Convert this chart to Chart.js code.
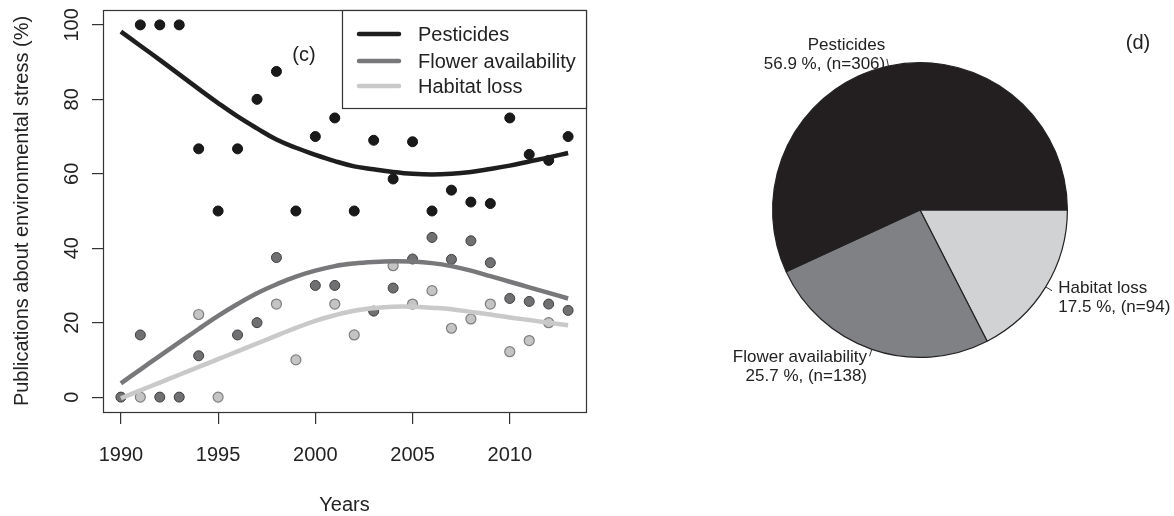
<!DOCTYPE html>
<html>
<head>
<meta charset="utf-8">
<script src="https://cdn.jsdelivr.net/npm/chart.js@4.4.1/dist/chart.umd.min.js"></script>
<style>
  html, body { margin: 0; padding: 0; background: #fff; }
  #wrap { position: relative; width: 1174px; height: 516px; overflow: hidden; }
  #left { position: absolute; left: 0; top: 0; }
  #right { position: absolute; left: 640px; top: 0; }
</style>
</head>
<body>
<div id="wrap">
  <canvas id="left" width="620" height="516"></canvas>
  <canvas id="right" width="534" height="516"></canvas>
</div>
<script>
// ---------- data ----------
const years = [1990,1991,1992,1993,1994,1995,1996,1997,1998,1999,2000,2001,2002,2003,2004,2005,2006,2007,2008,2009,2010,2011,2012,2013];
const pesticidesPts = [null,100,100,100,66.7,50,66.7,80,87.5,50,70,75,50,69,58.6,68.6,50,55.6,52.4,52,75,65.2,63.6,70];
const flowerPts     = [0,16.7,0,0,11.1,null,16.7,20,37.5,null,30,30,null,23.1,29.3,37.1,42.9,37,42,36.1,26.5,25.7,25,23.3];
const habitatPts    = [null,0,null,null,22.2,0,null,null,25,10,null,25,16.7,null,35.3,25,28.6,18.5,21,25,12.2,15.2,20,null];
const pesticidesFit = [98.2,94.4,90.6,86.7,82.8,79,75.4,72.2,69.2,67,65.1,63.4,62,61.2,60.5,60,59.8,60,60.5,61.3,62.2,63.3,64.4,65.6];
const flowerFit     = [3.7,7.4,11.1,14.7,18.3,21.8,25,27.9,30.3,32.4,34,35.2,35.9,36.3,36.5,36.4,36,35.2,34,32.5,31,29.5,28,26.5];
const habitatFit    = [-0.3,1.8,3.9,6.0,8.1,10.2,12.3,14.4,16.5,18.6,20.5,22.0,23.2,23.9,24.3,24.3,24,23.6,22.9,22.2,21.4,20.7,20,19.3];
const seriesNames = ["Pesticides","Flower availability","Habitat loss"];
const xTicks = [1990,1995,2000,2005,2010];
const yTicks = [0,20,40,60,80,100];
const pieLabels = ["Habitat loss","Flower availability","Pesticides"];
const pieCounts = [94,138,306];
const piePercents = ["17.5","25.7","56.9"];

const FONT = '"Liberation Sans", Arial, Helvetica, sans-serif';
const lineColors = ["#1e1e1e","#78787b","#c9c9c9"];

function pts(arr){ return years.map((y,i)=>({x:y,y:arr[i]})).filter(p=>p.y!==null); }

const leftPlugin = {
  id: 'leftDecor',
  afterDraw(chart){
    const ctx = chart.ctx, a = chart.chartArea, ys = chart.scales.y;
    ctx.save();
    // box
    ctx.strokeStyle = '#333'; ctx.lineWidth = 1.2;
    ctx.strokeRect(a.left+0.5, a.top+0.5, a.right-a.left, a.bottom-a.top);
    // y tick labels (rotated)
    ctx.fillStyle = '#222';
    ctx.font = '20px ' + FONT;
    ctx.textAlign = 'center'; ctx.textBaseline = 'middle';
    yTicks.forEach(v=>{
      const y = ys.getPixelForValue(v);
      ctx.save(); ctx.translate(72, y); ctx.rotate(-Math.PI/2);
      ctx.fillText(String(v), 0, 0); ctx.restore();
    });
    // y title
    ctx.save(); ctx.translate(22, (a.top+a.bottom)/2); ctx.rotate(-Math.PI/2);
    ctx.fillText('Publications about environmental stress (%)', 0, 0); ctx.restore();
    // x title
    ctx.fillText('Years', (a.left+a.right)/2, 505);
    // panel letter
    ctx.fillText('(c)', 304, 55);
    // legend
    const lx = 342, ly = a.top, lw = a.right - lx, lh = 98;
    ctx.fillStyle = '#fff'; ctx.fillRect(lx, ly, lw, lh);
    ctx.strokeStyle = '#333'; ctx.lineWidth = 1.2;
    ctx.strokeRect(lx+0.5, ly+0.5, lw, lh);
    const rows = [34, 61, 86];
    ctx.textAlign = 'left'; ctx.textBaseline = 'middle';
    seriesNames.forEach((n,i)=>{
      ctx.strokeStyle = lineColors[i]; ctx.lineWidth = 4.5; ctx.lineCap = 'round';
      ctx.beginPath(); ctx.moveTo(359, rows[i]); ctx.lineTo(399, rows[i]); ctx.stroke();
      ctx.fillStyle = '#222';
      ctx.fillText(n, 418, rows[i]+1);
    });
    ctx.restore();
  }
};

new Chart(document.getElementById('left'), {
  type: 'line',
  data: {
    datasets: [
      {label: seriesNames[0]+' fit', data: pts(pesticidesFit), borderColor: lineColors[0], borderWidth: 4.5, pointRadius: 0, tension: 0.4, fill: false, order: 0},
      {label: seriesNames[1]+' fit', data: pts(flowerFit), borderColor: lineColors[1], borderWidth: 4.5, pointRadius: 0, tension: 0.4, fill: false, order: 1},
      {label: seriesNames[2]+' fit', data: pts(habitatFit), borderColor: lineColors[2], borderWidth: 4.5, pointRadius: 0, tension: 0.4, fill: false, order: 2},
      {label: seriesNames[0], data: pts(pesticidesPts), showLine: false, pointRadius: 5, pointBackgroundColor: '#1a1a1a', pointBorderColor: '#111', pointBorderWidth: 1, order: 3},
      {label: seriesNames[1], data: pts(flowerPts), showLine: false, pointRadius: 5, pointBackgroundColor: '#707073', pointBorderColor: '#3e3e3e', pointBorderWidth: 1, order: 4},
      {label: seriesNames[2], data: pts(habitatPts), showLine: false, pointRadius: 5, pointBackgroundColor: '#c4c4c4', pointBorderColor: '#7e7e7e', pointBorderWidth: 1.2, order: 5}
    ]
  },
  options: {
    responsive: false, animation: false,
    layout: {padding: {top: 10, right: 34, left: 0, bottom: 0}},
    plugins: {legend: {display: false}, tooltip: {enabled: false}},
    scales: {
      x: {
        type: 'linear', min: 1989.08, max: 2013.92,
        afterBuildTicks(s){ s.ticks = xTicks.map(v=>({value:v})); },
        afterFit(s){ s.height = 104; },
        grid: {display: true, drawOnChartArea: false, drawTicks: true, tickLength: 12, color: '#333', lineWidth: 1.2},
        border: {display: false},
        ticks: {font: {size: 20, family: FONT}, color: '#222', padding: 19, maxRotation: 0, autoSkip: false,
                callback: v => String(v)}
      },
      y: {
        type: 'linear', min: -4, max: 104,
        afterBuildTicks(s){ s.ticks = yTicks.map(v=>({value:v})); },
        afterFit(s){ s.width = 103; },
        grid: {display: true, drawOnChartArea: false, drawTicks: true, tickLength: 11, color: '#333', lineWidth: 1.2},
        border: {display: false},
        ticks: {display: false}
      }
    }
  },
  plugins: [leftPlugin]
});

// ---------- pie ----------
const pieColors = ['#d0d2d3','#808184','#231f20'];
const piePlugin = {
  id: 'pieDecor',
  afterDraw(chart){
    const ctx = chart.ctx;
    const arcs = chart.getDatasetMeta(0).data;
    ctx.save();
    ctx.font = '17px ' + FONT;
    ctx.fillStyle = '#222'; ctx.strokeStyle = '#333'; ctx.lineWidth = 1;
    arcs.forEach((arc,i)=>{
      const p = arc.getProps(['x','y','startAngle','endAngle','outerRadius'], true);
      const m = (p.startAngle + p.endAngle)/2, r = p.outerRadius;
      const c = Math.cos(m), s = Math.sin(m);
      ctx.beginPath();
      ctx.moveTo(p.x + c*r, p.y + s*r);
      ctx.lineTo(p.x + c*r*1.05, p.y + s*r*1.05);
      ctx.stroke();
      const tx = p.x + c*r*1.1, ty = p.y + s*r*1.1;
      ctx.textAlign = c < 0 ? 'right' : 'left';
      ctx.textBaseline = 'middle';
      ctx.fillText(pieLabels[i], tx, ty - 6);
      ctx.fillText(piePercents[i] + ' %, (n=' + pieCounts[i] + ')', tx, ty + 13);
    });
    ctx.font = '20px ' + FONT;
    ctx.textAlign = 'center';
    ctx.fillText('(d)', 1138 - 640, 43);
    ctx.restore();
  }
};

new Chart(document.getElementById('right'), {
  type: 'pie',
  data: {
    labels: pieLabels,
    datasets: [{data: pieCounts, backgroundColor: pieColors, borderColor: '#222', borderWidth: 1.2, hoverOffset: 0}]
  },
  options: {
    responsive: false, animation: false, rotation: 90,
    layout: {padding: {top: 62, bottom: 158, left: 132, right: 106}},
    plugins: {legend: {display: false}, tooltip: {enabled: false}}
  },
  plugins: [piePlugin]
});
</script>
</body>
</html>
